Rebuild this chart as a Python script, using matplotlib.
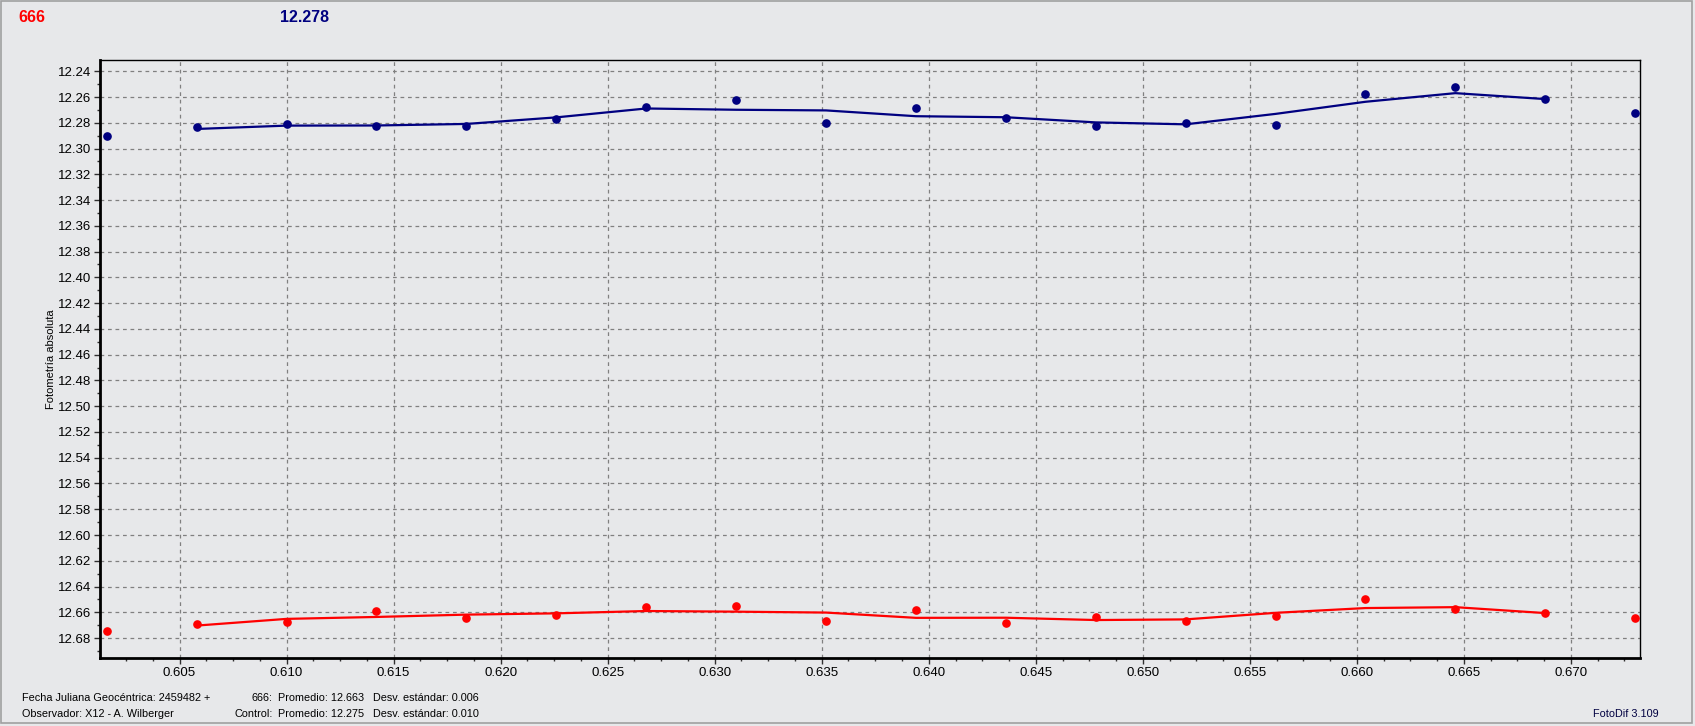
import matplotlib
matplotlib.use("Agg")
import matplotlib.pyplot as plt
from matplotlib.ticker import MultipleLocator, FormatStrFormatter
from matplotlib.patches import Rectangle

# Fecha juliana (fraccion del dia, 2459482 +)
jd = [0.6016, 0.6058, 0.6100, 0.6142, 0.6184, 0.6226, 0.6268, 0.6310, 0.6352,
      0.6394, 0.6436, 0.6478, 0.6520, 0.6562, 0.6604, 0.6646, 0.6688, 0.6730]

# estrella 666 (rojo)
mag_666 = [12.6746, 12.6690, 12.6674, 12.6588, 12.6645, 12.6621, 12.6556, 12.6548, 12.6667,
           12.6582, 12.6681, 12.6635, 12.6667, 12.6628, 12.6493, 12.6573, 12.6602, 12.6645]
curva_666 = [12.6703, 12.6651, 12.6636, 12.6618, 12.6608, 12.6590, 12.6595, 12.6602,
             12.6643, 12.6642, 12.6660, 12.6655, 12.6604, 12.6567, 12.6560, 12.6606]

# estrella de control (azul)
mag_ctrl = [12.2904, 12.2832, 12.2807, 12.2828, 12.2828, 12.2770, 12.2675, 12.2623, 12.2799,
            12.2685, 12.2762, 12.2824, 12.2801, 12.2817, 12.2574, 12.2519, 12.2615, 12.2721]
curva_ctrl = [12.2848, 12.2822, 12.2821, 12.2809, 12.2758, 12.2689, 12.2699, 12.2704,
              12.2749, 12.2757, 12.2797, 12.2812, 12.2731, 12.2637, 12.2570, 12.2616]

bg = "#E7E8EA"
rojo = "#FF0000"
azul = "#000080"

plt.rcParams['font.family'] = ['Liberation Sans', 'DejaVu Sans']

fig = plt.figure(figsize=(16.95, 7.26), dpi=100, facecolor=bg)
ax = fig.add_axes([99.5 / 1695, 1 - 658.3 / 726, (1640.3 - 99.5) / 1695, (658.3 - 60.3) / 726])
ax.set_facecolor(bg)

ax.plot(jd[1:-1], curva_ctrl, color=azul, lw=1.6, zorder=3)
ax.plot(jd, mag_ctrl, 'o', color=azul, ms=5.2, zorder=4, ls='none')
ax.plot(jd[1:-1], curva_666, color=rojo, lw=1.6, zorder=3)
ax.plot(jd, mag_666, 'o', color=rojo, ms=5.2, zorder=4, ls='none')

ax.set_xlim(0.60126, 0.67324)
ax.set_ylim(12.6957, 12.2315)

ax.xaxis.set_major_locator(MultipleLocator(0.005))
ax.xaxis.set_minor_locator(MultipleLocator(0.00125))
ax.xaxis.set_major_formatter(FormatStrFormatter('%.3f'))
ax.yaxis.set_major_locator(MultipleLocator(0.02))
ax.yaxis.set_minor_locator(MultipleLocator(0.01))
ax.yaxis.set_major_formatter(FormatStrFormatter('%.2f'))

ax.tick_params(which='major', length=4, width=1, labelsize=9.5, pad=2, color='#303030')
ax.tick_params(which='minor', length=2, width=1, color='#303030')
ax.grid(True, which='major', color='#808080', ls=(0, (3, 3)), lw=0.9)
for s in ax.spines.values():
    s.set_color('black')
ax.spines['left'].set_linewidth(2)
ax.spines['bottom'].set_linewidth(2)
ax.spines['top'].set_linewidth(1)
ax.spines['right'].set_linewidth(1)

ax.set_ylabel('Fotometría absoluta', fontsize=8, labelpad=1.5)

# titulos superiores
fig.text(18 / 1695, 1 - 18 / 726, '666', color=rojo, fontsize=11.5, fontweight='bold', va='center')
fig.text(280 / 1695, 1 - 18 / 726, '12.278', color=azul, fontsize=11.5, fontweight='bold', va='center')

# pie
y1 = 1 - 698 / 726
y2 = 1 - 714 / 726
fs = 7.8
fig.text(21.6 / 1695, y1, 'Fecha Juliana Geocéntrica: 2459482 +', fontsize=fs, va='center')
fig.text(21.6 / 1695, y2, 'Observador: X12 - A. Wilberger', fontsize=fs, va='center')
fig.text(273 / 1695, y1, '666:', fontsize=fs, va='center', ha='right')
fig.text(273 / 1695, y2, 'Control:', fontsize=fs, va='center', ha='right')
fig.text(278 / 1695, y1, 'Promedio: 12.663', fontsize=fs, va='center')
fig.text(278 / 1695, y2, 'Promedio: 12.275', fontsize=fs, va='center')
fig.text(373 / 1695, y1, 'Desv. estándar: 0.006', fontsize=fs, va='center')
fig.text(373 / 1695, y2, 'Desv. estándar: 0.010', fontsize=fs, va='center')
fig.text(1659 / 1695, y2, 'FotoDif 3.109', fontsize=fs, va='center', ha='right', color='#000040')

# marco de la ventana
fig.patches.append(Rectangle((1 / 1695, 3 / 726), 1691 / 1695, 722 / 726, transform=fig.transFigure,
                             fill=False, ec='#A0A0A0', lw=1.2))

fig.savefig('out.png', dpi=100, facecolor=bg)
